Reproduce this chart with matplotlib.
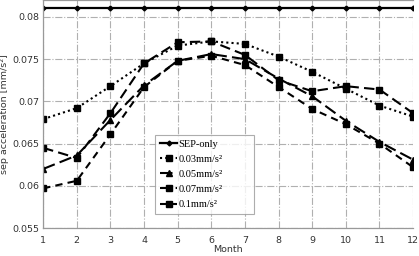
import matplotlib.pyplot as plt

months = [1, 2, 3, 4, 5, 6, 7, 8, 9, 10, 11, 12]
sep_only = [0.081] * 12
acc_003 = [0.0679, 0.0692, 0.0718, 0.0745, 0.0766, 0.0771, 0.0768, 0.0753, 0.0735, 0.0715, 0.0695, 0.0682]
acc_005 = [0.0620, 0.0636, 0.0678, 0.0719, 0.0748, 0.0756, 0.0750, 0.0727, 0.0706, 0.0677, 0.0652, 0.0631]
acc_007 = [0.0645, 0.0633, 0.0686, 0.0745, 0.0770, 0.0771, 0.0755, 0.0725, 0.0712, 0.0718, 0.0714, 0.0686]
acc_01 = [0.0597, 0.0606, 0.0661, 0.0717, 0.0748, 0.0754, 0.0743, 0.0717, 0.0691, 0.0673, 0.0650, 0.0622]

fig = plt.figure(figsize=(4.19, 2.56), dpi=100)
ax = fig.add_axes([0.103, 0.109, 0.883, 0.891])

ax.plot(months, sep_only, '-', color='black', lw=1.6, marker='D', ms=2.5, label='SEP-only')
ax.plot(months, acc_003, linestyle=(0, (1, 1.5)), color='black', lw=1.5, marker='s', ms=4.5, label='0.03mm/s²')
ax.plot(months, acc_005, linestyle=(0, (6, 2.5)), color='black', lw=1.5, marker='^', ms=4.5, label='0.05mm/s²')
ax.plot(months, acc_007, linestyle=(0, (5, 2.5)), color='black', lw=1.5, marker='s', ms=4.5, label='0.07mm/s²')
ax.plot(months, acc_01, linestyle=(0, (3.5, 2.5)), color='black', lw=1.5, marker='s', ms=4.5, label='0.1mm/s²')

ax.set_xlim(1, 12)
ax.set_ylim(0.055, 0.082)
ax.set_xticks(months)
ax.set_yticks([0.055, 0.06, 0.065, 0.07, 0.075, 0.08])
ax.set_yticklabels(['0.055', '0.06', '0.065', '0.07', '0.075', '0.08'])
ax.grid(True, color='#b0b0b0', linestyle='-.', lw=0.8)
ax.tick_params(length=0, labelsize=6.8, colors='#333333')
ax.tick_params(axis='x', pad=6)
ax.tick_params(axis='y', pad=3)

ax.spines['right'].set_visible(False)
for s in ['left', 'bottom', 'top']:
    ax.spines[s].set_color('#999999')
    ax.spines[s].set_linewidth(0.9)

ax.set_xlabel('Month', fontsize=6.8, labelpad=0, color='#333333')
ax.set_ylabel('sep acceleration [mm/s²]', fontsize=6.8, labelpad=2, color='#333333')

leg = ax.legend(loc='upper left', bbox_to_anchor=(0.303, 0.40, 0.268, 0.01), mode='expand',
                frameon=True, fancybox=False,
                prop={'family': 'Liberation Serif', 'size': 7.5}, handlelength=1.6, handletextpad=0.1,
                labelspacing=0.55, borderpad=0.5, borderaxespad=0)
leg.get_frame().set_edgecolor('#999999')
leg.get_frame().set_linewidth(0.8)

fig.savefig('out.png', dpi=100)
